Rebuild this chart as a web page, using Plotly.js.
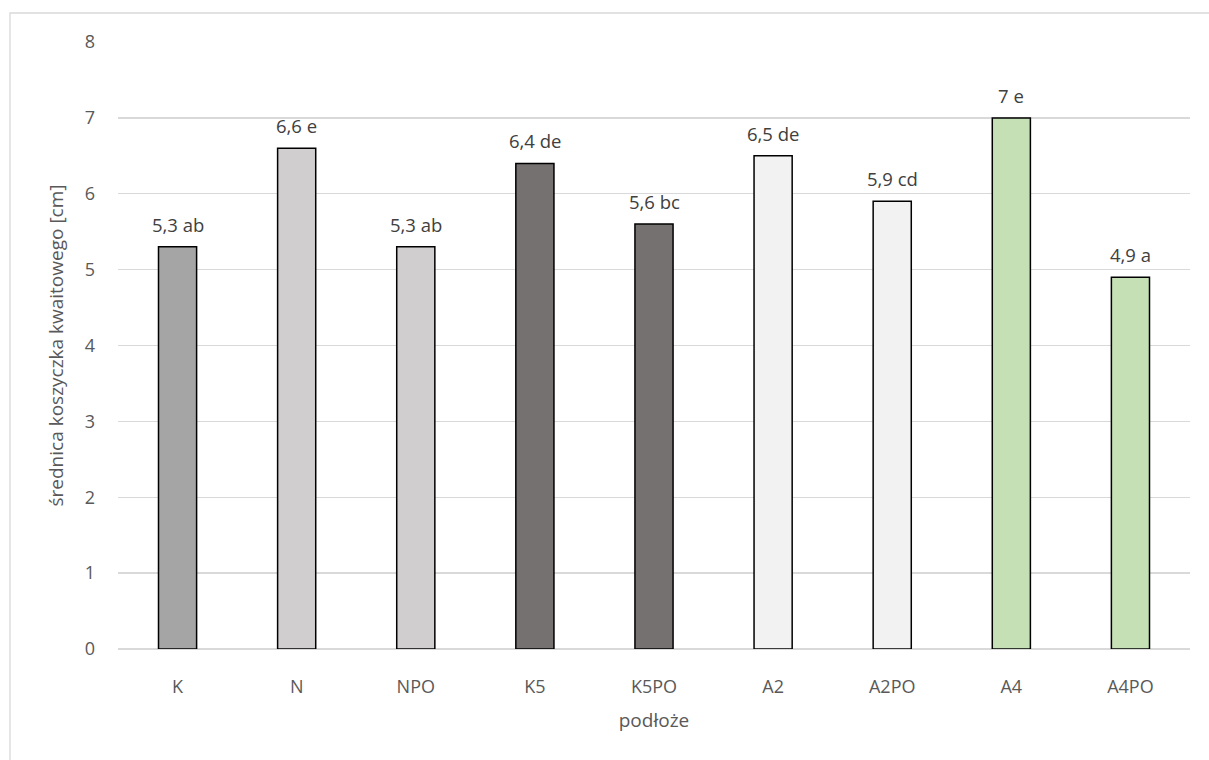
<!DOCTYPE html>
<html>
<head>
<meta charset="utf-8">
<script src="https://cdn.plot.ly/plotly-3.0.1.min.js"></script>
<style>
  html, body { margin: 0; padding: 0; background: #fff; }
  #chart { width: 1209px; height: 760px; }
</style>
</head>
<body>
<div id="chart"></div>
<script>
// Substrate variants (x axis)
const categories = ['K', 'N', 'NPO', 'K5', 'K5PO', 'A2', 'A2PO', 'A4', 'A4PO'];
// Mean flower head diameter [cm]
const values = [5.3, 6.6, 5.3, 6.4, 5.6, 6.5, 5.9, 7.0, 4.9];
// Homogeneous group letters
const groups = ['ab', 'e', 'ab', 'de', 'bc', 'de', 'cd', 'e', 'a'];
// Fill colour for each bar
const barColors = ['#A5A5A5', '#D0CECE', '#D0CECE', '#767171', '#767171',
                   '#F2F2F2', '#F2F2F2', '#C5E0B4', '#C5E0B4'];
// Y axis ticks
const yTicks = [0, 1, 2, 3, 4, 5, 6, 7, 8];

const FONT = 'Open Sans, Noto Sans, sans-serif';
const W = 1209, H = 760;
const M = { l: 118, r: 19, t: 42, b: 111 };
const pw = W - M.l - M.r, ph = H - M.t - M.b;

// "5,3 ab" style labels with a decimal comma
const labels = values.map((v, i) => String(v).replace('.', ',') + ' ' + groups[i]);

const trace = {
  type: 'bar',
  x: categories,
  y: values,
  marker: { color: barColors, line: { color: '#000000', width: 1.5 } },
  hoverinfo: 'x+y',
  showlegend: false
};

const annotations = categories.map((c, i) => ({
  x: c, y: values[i], xref: 'x', yref: 'y',
  text: labels[i], showarrow: false,
  yanchor: 'bottom', yshift: 8,
  font: { family: FONT, size: 18.5, color: '#404040' }
}));

const layout = {
  width: W, height: H,
  margin: M,
  paper_bgcolor: '#ffffff',
  plot_bgcolor: '#ffffff',
  bargap: 0.68,
  font: { family: FONT, color: '#595959', size: 18 },
  xaxis: {
    type: 'category',
    showgrid: false,
    showline: false,
    zeroline: false,
    ticks: '',
    ticklabelstandoff: 25,
    tickfont: { family: FONT, size: 18, color: '#595959' },
    title: { text: 'podłoże', font: { family: FONT, size: 19, color: '#595959' }, standoff: 16 }
  },
  yaxis: {
    range: [0, 8],
    tickvals: yTicks,
    ticktext: yTicks.map(String),
    showgrid: true,
    gridcolor: '#D9D9D9',
    gridwidth: 1.3,
    zeroline: true,
    zerolinecolor: '#D9D9D9',
    zerolinewidth: 1.3,
    showline: false,
    ticks: '',
    ticklabelstandoff: 22,
    tickfont: { family: FONT, size: 18, color: '#595959' },
    title: { text: 'średnica koszyczka kwaitowego [cm]', font: { family: FONT, size: 19, color: '#595959' }, standoff: 16 }
  },
  shapes: [{
    type: 'rect', xref: 'paper', yref: 'paper',
    x0: (10 - M.l) / pw, x1: (W + 5 - M.l) / pw,
    y0: -(H + 5 - M.t - ph) / ph, y1: (H - 13 - M.b) / ph,
    line: { color: '#D9D9D9', width: 1.3 },
    fillcolor: 'rgba(0,0,0,0)',
    layer: 'below'
  }],
  annotations: annotations
};

Plotly.newPlot('chart', [trace], layout, { displayModeBar: false, staticPlot: true });
</script>
</body>
</html>
